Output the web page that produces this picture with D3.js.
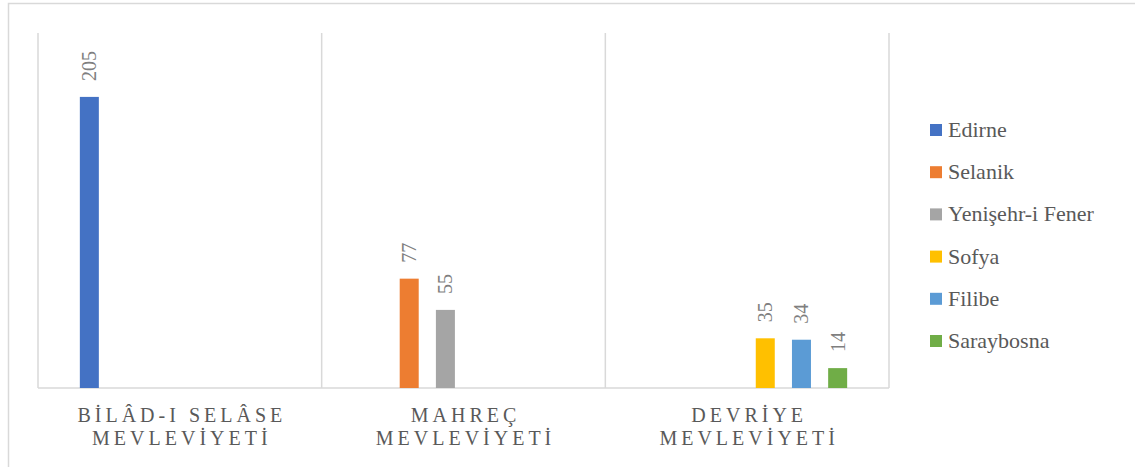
<!DOCTYPE html>
<html>
<head>
<meta charset="utf-8">
<script src="https://cdn.jsdelivr.net/npm/d3@7"></script>
<style>
  html, body { margin: 0; padding: 0; background: #fff; }
  svg { display: block; }
</style>
</head>
<body>
<svg id="chart" width="1135" height="467"></svg>
<script>
// ---- data ----
const categories = ["BİLÂD-I SELÂSE MEVLEVİYETİ", "MAHREÇ MEVLEVİYETİ", "DEVRİYE MEVLEVİYETİ"];
const seriesNames = ["Edirne", "Selanik", "Yenişehr-i Fener", "Sofya", "Filibe", "Saraybosna"];
const seriesColors = ["#4472C4", "#ED7D31", "#A5A5A5", "#FFC000", "#5B9BD5", "#70AD47"];
// values per series, one per category (null = no bar)
const edirne     = [205, null, null];
const selanik    = [null, 77, null];
const yenisehr   = [null, 55, null];
const sofya      = [null, null, 35];
const filibe     = [null, null, 34];
const saraybosna = [null, null, 14];
const seriesValues = [edirne, selanik, yenisehr, sofya, filibe, saraybosna];
const yMax = 250;

// ---- layout ----
const svg = d3.select("#chart");
const plot = { left: 38, right: 889, top: 33, bottom: 388 };
const FONT = '"Liberation Serif"';

// outer border
svg.append("rect")
  .attr("x", 8.5).attr("y", 3.5).attr("width", 1140).attr("height", 480)
  .attr("fill", "none").attr("stroke", "#d9d9d9").attr("stroke-width", 1.5);

const x0 = d3.scaleBand().domain(categories).range([plot.left, plot.right]).padding(0);
const x1 = d3.scaleBand().domain(seriesNames).range([0, x0.bandwidth()])
  .paddingInner(0.475).paddingOuter(1.156);
const y = d3.scaleLinear().domain([0, yMax]).range([plot.bottom, plot.top]);

// vertical separators
const seps = categories.map(c => x0(c)).concat([plot.right]);
svg.append("g").selectAll("line").data(seps).join("line")
  .attr("x1", d => d).attr("x2", d => d)
  .attr("y1", plot.top).attr("y2", plot.bottom)
  .attr("stroke", "#d9d9d9").attr("stroke-width", 1.5);

// baseline
svg.append("line")
  .attr("x1", plot.left).attr("x2", plot.right)
  .attr("y1", plot.bottom).attr("y2", plot.bottom)
  .attr("stroke", "#d9d9d9").attr("stroke-width", 1.5);

// bars
const barData = [];
seriesNames.forEach((s, si) => {
  categories.forEach((c, ci) => {
    const v = seriesValues[si][ci];
    if (v != null) barData.push({ s, si, c, v });
  });
});

svg.append("g").selectAll("rect").data(barData).join("rect")
  .attr("x", d => x0(d.c) + x1(d.s))
  .attr("width", x1.bandwidth())
  .attr("y", d => y(d.v))
  .attr("height", d => y(0) - y(d.v))
  .attr("fill", d => seriesColors[d.si]);

// value labels (rotated)
svg.append("g").selectAll("text").data(barData).join("text")
  .attr("transform", d => `translate(${x0(d.c) + x1(d.s) + x1.bandwidth() / 2 + 7},${y(d.v) - 16}) rotate(-90)`)
  .attr("font-size", 20)
  .style("font-family", FONT)
  .style("fill", "#7f7f7f")
  .text(d => d.v);

// category labels (two lines, spaced letters via per-character tspans)
const CAT_SIZE = 20, CAT_SPACING = 4;
const measure = svg.append("text").style("font-family", FONT).attr("font-size", CAT_SIZE)
  .attr("x", -1000).attr("y", -1000);
function prefixWidth(str) {
  if (!str.length) return 0;
  measure.text(str.replace(/ /g, "\u00A0"));
  return measure.node().getComputedTextLength();
}
const catG = svg.append("g");
categories.forEach(c => {
  const i = c.lastIndexOf(" ");
  const lines = [c.slice(0, i), c.slice(i + 1)];
  const cx = x0(c) + x0.bandwidth() / 2;
  lines.forEach((ln, li) => {
    const chars = Array.from(ln);
    const total = prefixWidth(ln) + (chars.length - 1) * CAT_SPACING;
    const start = cx - total / 2;
    const t = catG.append("text")
      .attr("y", 422 + li * 23)
      .attr("font-size", CAT_SIZE)
      .style("font-family", FONT)
      .style("fill", "#595959");
    chars.forEach((ch, k) => {
      const px = start + prefixWidth(chars.slice(0, k).join("")) + k * CAT_SPACING;
      t.append("tspan").attr("x", px).text(ch);
    });
  });
});
measure.remove();

// legend
const lg = svg.append("g").selectAll("g").data(seriesNames).join("g")
  .attr("transform", (d, i) => `translate(930,${137 + i * 42.2})`);
lg.append("rect")
  .attr("x", 0).attr("y", -13).attr("width", 12).attr("height", 12)
  .attr("fill", (d, i) => seriesColors[i]);
lg.append("text")
  .attr("x", 18)
  .attr("font-size", 22)
  .style("font-family", FONT)
  .style("fill", "#595959")
  .text(d => d);
</script>
</body>
</html>
